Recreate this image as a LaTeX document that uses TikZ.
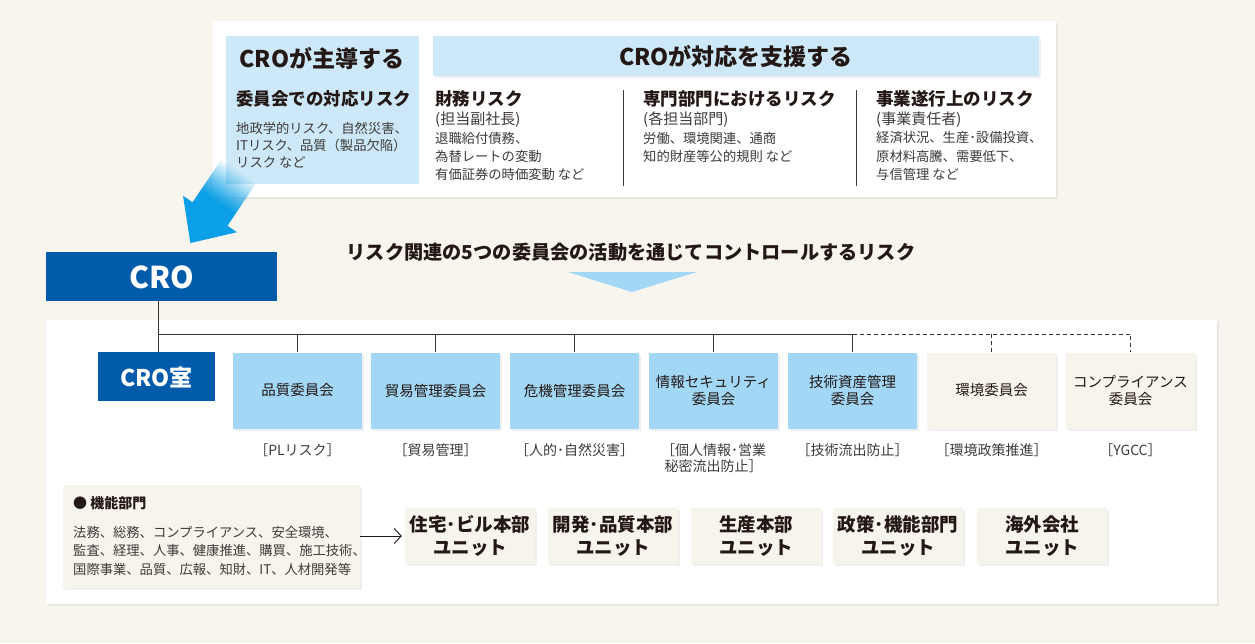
\documentclass[tikz,border=0pt]{standalone}
\usepackage{fontspec}
\setmainfont{Noto Sans CJK JP}
\usetikzlibrary{arrows.meta,shadows,calc}
\definecolor{bg}{HTML}{F7F5EE}
\definecolor{topblue}{HTML}{CDE8F8}
\definecolor{cblue}{HTML}{A2D7F5}
\definecolor{cream}{HTML}{F7F4EC}
\definecolor{dblue}{HTML}{005BAA}
\definecolor{ablue}{HTML}{0A9FE6}
\definecolor{txt}{HTML}{231815}
\definecolor{gtxt}{HTML}{3E3A39}
\definecolor{linec}{HTML}{333333}
\newcommand\myfs[1]{\fontsize{#1}{#1}\selectfont}
\tikzset{
  shd/.style={drop shadow={shadow xshift=1.5pt, shadow yshift=-2pt, opacity=0.12}},
  panel/.style={fill=white, anchor=north west, inner sep=0pt, shd},
  lt/.style={anchor=west, inner sep=0pt, text=gtxt, font=\myfs{13.3}},
  hd/.style={anchor=west, inner sep=0pt, text=txt, font=\bfseries\myfs{17.5}},
  sub/.style={anchor=west, inner sep=0pt, text=gtxt, font=\myfs{15}},
  cbox/.style={fill=cblue, minimum width=129pt, minimum height=76pt, inner sep=0pt, align=center, text=txt, font={\fontsize{14.5}{16.5}\selectfont}, shd},
  gbox/.style={cbox, fill=cream},
  ubox/.style={fill=cream, minimum width=130pt, minimum height=56pt, inner sep=0pt, align=center, text=txt, font={\bfseries\fontsize{18.5}{22.5}\selectfont}, shd},
  lab/.style={anchor=north, inner sep=0pt, align=center, text=gtxt, font={\fontsize{14}{16}\selectfont}},
  orgline/.style={draw=linec, line width=0.9pt},
}
\begin{document}
\begin{tikzpicture}[x=1pt,y=-1pt]
\useasboundingbox (0,0) rectangle (1255,643);
\fill[bg] (0,0) rectangle (1255,643);

% ---------- top panel ----------
\node[panel, minimum width=843pt, minimum height=176pt] (toppanel) at (213,21) {};
\node[fill=topblue, anchor=north west, inner sep=0pt, minimum width=193pt, minimum height=148pt] (leadbox) at (226,36) {};
\node[fill=topblue, anchor=north west, inner sep=0pt, minimum width=606pt, minimum height=40pt, shd] (supbar) at (433,36) {};
\node[inner sep=0pt, text=txt, font=\bfseries\myfs{23}] (leadtitle) at (322,59) {CROが主導する};
\node[inner sep=0pt, text=txt, font=\bfseries\myfs{23}] (suptitle) at (736,57) {CROが対応を支援する};

\node[hd] (h1) at (236,99) {委員会での対応リスク};
\node[lt] (a1) at (236,128) {地政学的リスク、自然災害、};
\node[lt] (a2) at (236,145) {ITリスク、品質（製品欠陥）};
\node[lt] (a3) at (236,162) {リスク など};

\node[hd] (h2) at (435,99) {財務リスク};
\node[sub] (s2) at (435,120) {(担当副社長)};
\node[lt] (b1) at (435,138) {退職給付債務、};
\node[lt] (b2) at (435,156) {為替レートの変動};
\node[lt] (b3) at (435,174) {有価証券の時価変動 など};

\coordinate (sep1t) at (623,90);
\coordinate (sep1b) at (623,186);
\draw[draw=gtxt, line width=0.8pt] (sep1t) -- (sep1b);

\node[hd] (h3) at (643,99) {専門部門におけるリスク};
\node[sub] (s3) at (643,120) {(各担当部門)};
\node[lt] (c1t) at (643,138) {労働、環境関連、通商};
\node[lt] (c2t) at (643,156) {知的財産等公的規則 など};

\coordinate (sep2t) at (856,90);
\coordinate (sep2b) at (856,186);
\draw[draw=gtxt, line width=0.8pt] (sep2t) -- (sep2b);

\node[hd] (h4) at (876,99) {事業遂行上のリスク};
\node[sub] (s4) at (876,120) {(事業責任者)};
\node[lt] (d1) at (876,138) {経済状況、生産･設備投資、};
\node[lt] (d2) at (876,156) {原材料高騰、需要低下、};
\node[lt] (d3) at (876,174) {与信管理 など};

% ---------- big arrow ----------
\begin{scope}[shift={(210,214)}, x={(0.56pt,0.83pt)}, y={(0.83pt,-0.56pt)}]
  \fill[ablue] (-35,0) -- (0,-32.5) -- (0,-21) -- (16,-21) -- (16,21) -- (0,21) -- (0,32.5) -- cycle;
  \foreach \i [evaluate=\i as \op using {1-(\i+1)/15}, evaluate=\i as \xa using {16+\i*2.5}, evaluate=\i as \xb using {18.6+\i*2.5}] in {0,...,13} {
    \fill[ablue, opacity=\op] (\xa,-21) -- (\xb,-21) -- (\xb,21) -- (\xa,21) -- cycle;
  }
\end{scope}

% ---------- title & triangle ----------
\node[inner sep=0pt, text=txt, font=\bfseries\myfs{19.2}] (midtitle) at (631,252) {リスク関連の5つの委員会の活動を通じてコントロールするリスク};
\fill[cblue] (568,272) -- (697,272) -- (632,292) -- cycle;

% ---------- CRO ----------
\node[fill=dblue, anchor=north west, inner sep=0pt, minimum width=231pt, minimum height=49pt] (crobox) at (46,252) {};
\node[inner sep=0pt, text=white, font=\bfseries\myfs{30}] (cro) at (161.5,277) {CRO};

% ---------- lower panel ----------
\node[panel, minimum width=1171pt, minimum height=284pt] (lowpanel) at (46,320) {};

\node[fill=dblue, anchor=north west, inner sep=0pt, minimum width=117pt, minimum height=49pt] (crooffice) at (98,352) {};
\node[inner sep=0pt, text=white, font=\bfseries\myfs{23}] (croofficet) at (156.5,377) {CRO室};

\node[cbox] (k1) at (297.5,390.5) {品質委員会};
\node[cbox] (k2) at (435.5,390.5) {貿易管理委員会};
\node[cbox] (k3) at (574.5,390.5) {危機管理委員会};
\node[cbox] (k4) at (713.5,390.5) {情報セキュリティ\\委員会};
\node[cbox] (k5) at (852.5,390.5) {技術資産管理\\委員会};
\node[gbox] (k6) at (991.5,390.5) {環境委員会};
\node[gbox] (k7) at (1130.5,390.5) {コンプライアンス\\委員会};

\coordinate (busL) at (158,334);
\draw[orgline] (crobox.south -| busL) -- (crooffice.north -| busL);
\draw[orgline] (busL) -- (k5.north |- busL);
\foreach \k in {k1,k2,k3,k4,k5} {
  \draw[orgline] (\k.north |- busL) -- (\k.north);
}
\draw[orgline, dash pattern=on 4pt off 3pt] (k5.north |- busL) -- (k7.north |- busL) -- (k7.north);
\draw[orgline, dash pattern=on 4pt off 3pt] (k6.north |- busL) -- (k6.north);

\node[lab] (l1) at (297.5,443) {［PLリスク］};
\node[lab] (l2) at (435.5,443) {［貿易管理］};
\node[lab] (l3) at (574.5,443) {［人的･自然災害］};
\node[lab] (l4) at (713.5,443) {［個人情報･営業\\秘密流出防止］};
\node[lab] (l5) at (852.5,443) {［技術流出防止］};
\node[lab] (l6) at (991.5,443) {［環境政策推進］};
\node[lab] (l7) at (1130.5,443) {［YGCC］};

% ---------- functional depts ----------
\node[fill=cream, anchor=north west, inner sep=0pt, minimum width=297pt, minimum height=103pt, shd] (func) at (63,485) {};
\node[anchor=west, inner sep=0pt, text=txt, font=\bfseries\myfs{14}] (functitle) at (73,503) {● 機能部門};
\node[lt] (f1) at (73,532) {法務、総務、コンプライアンス、安全環境、};
\node[lt] (f2) at (73,550) {監査、経理、人事、健康推進、購買、施工技術、};
\node[lt] (f3) at (73,569) {国際事業、品質、広報、知財、IT、人材開発等};

\node[ubox] (u1) at (470,536) {住宅･ビル本部\\ユニット};
\node[ubox] (u2) at (613,536) {開発･品質本部\\ユニット};
\node[ubox] (u3) at (756,536) {生産本部\\ユニット};
\node[ubox] (u4) at (898,536) {政策･機能部門\\ユニット};
\node[ubox] (u5) at (1042,536) {海外会社\\ユニット};

\draw[draw=txt, line width=0.9pt, -{Straight Barb[length=7pt,width=15pt]}, shorten >=3pt] (func.east |- u1.west) -- (u1.west);
\end{tikzpicture}
\end{document}
